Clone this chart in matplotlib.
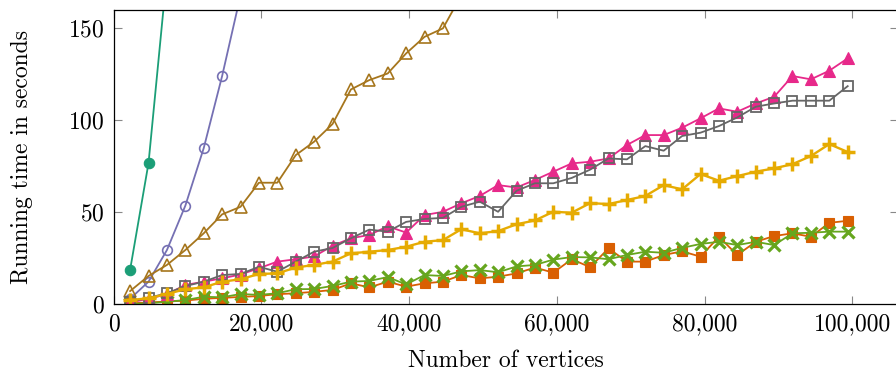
import matplotlib
matplotlib.use("Agg")
import matplotlib.pyplot as plt
from matplotlib.ticker import FuncFormatter

plt.rcParams.update({
    "font.family": "cmr10",
    "mathtext.fontset": "cm",
    "axes.formatter.use_mathtext": True,
    "font.size": 17,
})

# number of vertices (shared by all series)
n_vertices = [2250, 4740, 7230, 9720, 12210, 14700, 17190, 19680, 22170, 24660,
              27150, 29640, 32130, 34620, 37110, 39600, 42090, 44580, 47070, 49560,
              52050, 54540, 57030, 59520, 62010, 64500, 66990, 69480, 71970, 74460,
              76950, 79440, 81930, 84420, 86910, 89400, 91890, 94380, 96870, 99360]

# running times in seconds
teal = [18.8, 76.8, 180.0]
purple = [3.0, 12.3, 29.5, 53.6, 84.9, 124.1, 168.0]
brown = [7.2, 15.4, 21.4, 29.5, 38.6, 48.9, 53.0, 66.1, 66.1, 81.1, 88.4, 98.0,
         116.8, 121.9, 125.5, 136.4, 145.4, 150.0, 168.0]
pink = [1.0, 3.0, 5.5, 10.5, 12.3, 14.1, 16.2, 19.6, 23.2, 24.5,
        26.0, 31.8, 35.9, 37.7, 42.4, 39.0, 48.5, 50.3, 54.9, 58.9,
        64.8, 63.5, 67.6, 72.1, 76.6, 77.5, 79.3, 86.6, 92.0, 92.0,
        96.0, 101.1, 106.5, 104.7, 109.2, 112.8, 124.1, 122.3, 127.0, 133.7]
gray = [1.5, 3.5, 6.0, 9.9, 12.3, 15.9, 16.5, 20.4, 17.7, 23.2,
        28.6, 30.6, 35.9, 40.6, 39.5, 44.8, 46.4, 47.0, 53.0, 55.8,
        50.3, 61.7, 65.8, 65.8, 68.7, 73.2, 79.3, 78.8, 86.0, 83.5,
        91.5, 93.3, 96.9, 101.6, 107.4, 109.2, 110.7, 110.7, 110.7, 118.6]
yellow = [2.3, 3.3, 5.6, 8.2, 9.2, 12.3, 13.6, 16.5, 16.8, 20.0,
          21.4, 23.2, 27.7, 28.6, 29.5, 31.3, 34.0, 34.9, 40.8, 38.6,
          39.8, 43.5, 45.6, 50.3, 49.8, 55.0, 54.5, 56.7, 58.9, 64.8,
          62.5, 70.8, 67.2, 69.7, 72.1, 73.9, 76.2, 80.6, 87.1, 82.8]
green = [0.3, 0.5, 1.4, 2.3, 4.1, 3.8, 5.6, 5.1, 6.0, 8.2,
         8.3, 10.0, 12.3, 12.7, 14.8, 10.8, 15.9, 15.4, 17.9, 18.6,
         17.4, 20.6, 21.4, 24.3, 25.7, 25.5, 24.5, 26.8, 28.6, 28.0,
         30.7, 32.8, 34.0, 32.2, 34.0, 32.2, 38.6, 38.9, 39.5, 39.5]
orange = [0.5, 1.0, 1.5, 2.0, 3.0, 3.5, 4.0, 4.5, 5.5, 6.0,
          6.8, 7.8, 11.4, 9.2, 12.3, 9.6, 11.4, 12.3, 15.9, 14.1,
          15.0, 16.8, 20.0, 17.2, 24.5, 20.2, 30.4, 23.2, 23.2, 26.8,
          28.8, 25.9, 36.7, 26.8, 34.0, 37.1, 38.6, 36.7, 44.3, 45.4]

fig = plt.figure(figsize=(8.96, 3.76), dpi=100)
ax = fig.add_axes([113.5 / 896, 71.7 / 376, 784 / 896, 294.3 / 376])

lw = 1.3
ax.plot(n_vertices[:len(teal)], teal, color="#1b9e77", lw=lw, marker="o", ms=7.5, mew=0.8)
ax.plot(n_vertices[:len(purple)], purple, color="#7570b3", lw=lw, marker="o", ms=7,
        mfc="none", mew=1.2)
ax.plot(n_vertices[:len(brown)], brown, color="#a6761d", lw=lw, marker="^", ms=8.5,
        mfc="none", mew=1.2)
ax.plot(n_vertices, orange, color="#d95f02", lw=lw, marker="s", ms=6.5, mew=0.8)
ax.plot(n_vertices, green, color="#66a61e", lw=lw, marker="x", ms=8, mew=2.3)
ax.plot(n_vertices, pink, color="#e7298a", lw=lw, marker="^", ms=9, mew=0.8)
ax.plot(n_vertices, gray, color="#666666", lw=lw, marker="s", ms=6.5, mfc="none", mew=1.3)
ax.plot(n_vertices, yellow, color="#e6ab02", lw=lw + 0.4, marker="+", ms=10, mew=2.5)

ax.set_xlim(0, 106100)
ax.set_ylim(0, 160)
ax.set_xticks([0, 20000, 40000, 60000, 80000, 100000])
ax.set_yticks([0, 50, 100, 150])
ax.xaxis.set_major_formatter(FuncFormatter(lambda v, p: f"{int(v):,}"))
ax.tick_params(direction="in", length=6, width=0.8, color="#888888", pad=6.5,
               top=True, right=True)
for s in ax.spines.values():
    s.set_linewidth(0.9)

ax.set_xlabel("Number of vertices")
ax.set_ylabel("Running time in seconds")
ax.xaxis.set_label_coords(0.5, -0.155)
ax.yaxis.set_label_coords(-0.103, 0.5)

fig.savefig("out.png", dpi=100)
